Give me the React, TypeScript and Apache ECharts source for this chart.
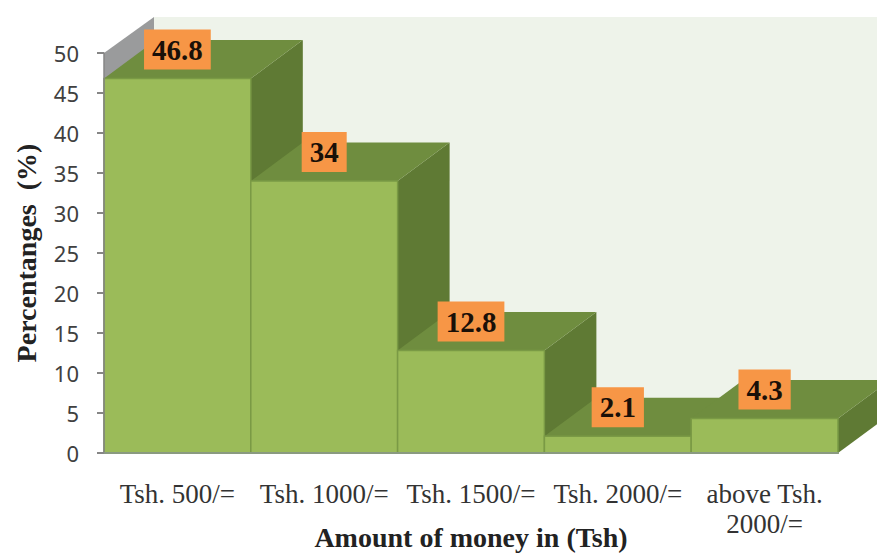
import React, { useEffect, useRef } from "react";
import * as echarts from "echarts";

const categories = ["Tsh. 500/=", "Tsh. 1000/=", "Tsh. 1500/=", "Tsh. 2000/=", "above Tsh.\n2000/="];
const percentages = [46.8, 34, 12.8, 2.1, 4.3];
const yTitle = "Percentanges  (%)";
const xTitle = "Amount of money in (Tsh)";

const DX = 52;
const DY = -38.5;
const SERIF = '"Liberation Serif", serif';

const renderWall = (params: any, api: any) => {
  const g = params.coordSys;
  const bottom = g.y + g.height;
  const wx = 50;
  const wy = -36;
  return {
    type: "group",
    children: [
      {
        type: "polygon",
        shape: { points: [[g.x + wx, g.y + wy], [g.x + g.width + 60, g.y + wy], [g.x + g.width + 60, bottom + wy], [g.x + wx, bottom + wy]] },
        style: { fill: "#EEF3EA" },
      },
      {
        type: "polygon",
        shape: { points: [[g.x, g.y], [g.x + wx, g.y + wy], [g.x + wx, bottom + wy], [g.x, bottom]] },
        style: { fill: "#9A9B9C" },
      },
    ],
  };
};

const renderBar = (params: any, api: any) => {
  const i = api.value(0);
  const top = api.coord([i, api.value(1)]);
  const base = api.coord([i, 0]);
  const size = api.size([1, 0]);
  const l = top[0] - size[0] / 2;
  const r = top[0] + size[0] / 2;
  const t = top[1];
  const b = base[1];
  return {
    type: "group",
    children: [
      {
        type: "polygon",
        shape: { points: [[r, t], [r + DX, t + DY], [r + DX, b + DY], [r, b]] },
        style: { fill: "#5F7A34" },
      },
      {
        type: "polygon",
        shape: { points: [[l, t], [r, t], [r + DX, t + DY], [l + DX, t + DY]] },
        style: { fill: "#6F8D3F" },
      },
      {
        type: "rect",
        shape: { x: l, y: t, width: r - l, height: b - t },
        style: { fill: "#9BBB59", stroke: "#7A9A45", lineWidth: 1.5 },
      },
    ],
  };
};

const renderLabel = (params: any, api: any) => {
  const i = api.value(0);
  const v = api.value(1);
  const p = api.coord([i, v]);
  return {
    type: "text",
    style: {
      text: String(v),
      x: p[0],
      y: p[1] - 29,
      align: "center",
      verticalAlign: "middle",
      font: `bold 29px ${SERIF}`,
      fill: "#1a1008",
      backgroundColor: "#F79646",
      padding: [6, 8, 5, 8],
    },
  };
};

export default function App() {
  const ref = useRef<HTMLDivElement>(null);
  useEffect(() => {
    const chart = echarts.init(ref.current!, undefined, { renderer: "svg" });
    const data = percentages.map((v, i) => [i, v]);
    chart.setOption({
      animation: false,
      backgroundColor: "#fff",
      grid: { left: 104, right: 39, top: 53, bottom: 100, outerBoundsMode: "none" },
      xAxis: {
        type: "category",
        data: categories,
        z: 10,
        name: xTitle,
        nameLocation: "middle",
        nameGap: 84,
        nameMoveOverlap: false,
        nameTextStyle: { fontFamily: SERIF, fontWeight: "bold", fontSize: 28, color: "#222", verticalAlign: "middle" },
        axisTick: { show: false },
        axisLine: { lineStyle: { color: "#8a9a80", width: 2 } },
        axisLabel: { interval: 0, margin: 26, fontFamily: SERIF, fontSize: 27, lineHeight: 30, color: "#333" },
      },
      yAxis: {
        type: "value",
        min: 0,
        max: 50,
        interval: 5,
        z: 10,
        name: yTitle,
        nameLocation: "middle",
        nameGap: 78,
        nameMoveOverlap: false,
        nameTextStyle: { fontFamily: SERIF, fontWeight: "bold", fontSize: 28, color: "#222", verticalAlign: "middle" },
        splitLine: { show: false },
        axisLine: { show: true, lineStyle: { color: "#868686", width: 1.5 } },
        axisTick: { show: true, length: 7, lineStyle: { color: "#868686", width: 2 } },
        axisLabel: { margin: 25, fontFamily: '"Noto Sans", sans-serif', fontSize: 22, color: "#404040" },
      },
      series: [
        { type: "custom", z: 1, silent: true, clip: false, coordinateSystem: "cartesian2d", renderItem: renderWall, data: [[0, 0]] },
        { type: "custom", z: 2, silent: true, clip: false, renderItem: renderBar, encode: { x: 0, y: 1 }, data },
        { type: "custom", z: 20, silent: true, clip: false, renderItem: renderLabel, encode: { x: 0, y: 1 }, data },
      ],
    });
    return () => chart.dispose();
  }, []);
  return <div ref={ref} style={{ position: "absolute", left: 0, top: 0, width: 877, height: 553 }} />;
}
